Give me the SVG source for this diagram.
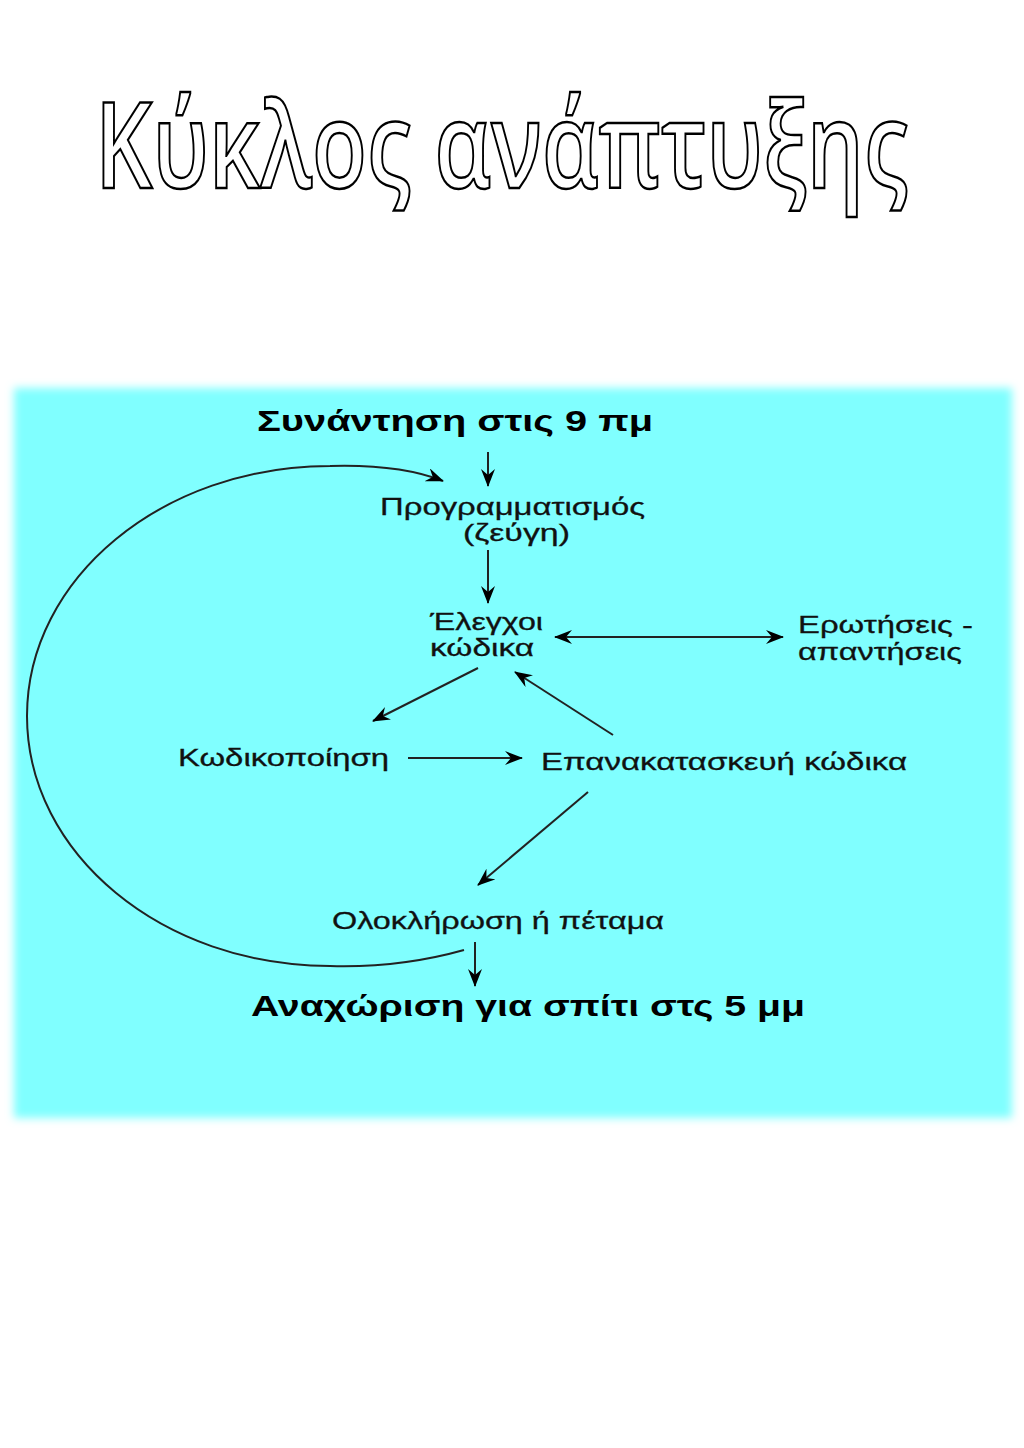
<svg xmlns="http://www.w3.org/2000/svg" width="1024" height="1448" viewBox="0 0 1024 1448">
<style>
.t{font-family:"Liberation Sans","DejaVu Sans",sans-serif;font-size:24px;fill:#111;stroke:#111;stroke-width:0.3}
.b{font-family:"Liberation Sans","DejaVu Sans",sans-serif;font-size:29px;font-weight:bold;fill:#000}
.title{font-family:"Open Sans","Noto Sans","DejaVu Sans",sans-serif;font-size:119px;font-weight:600;fill:#fff;stroke:#000;stroke-width:2.5}
.c{fill:none;stroke:#222;stroke-width:2}
</style>
<defs>
<filter id="soft" x="-5%" y="-5%" width="110%" height="110%"><feGaussianBlur stdDeviation="4"/></filter>
<marker id="ah" viewBox="0 0 18 14" refX="17" refY="7" markerWidth="18" markerHeight="14" markerUnits="userSpaceOnUse" orient="auto-start-reverse">
<path d="M0,0 L18,7 L0,14 L6,7 z" fill="#000"/>
</marker>
</defs>
<rect width="1024" height="1448" fill="#fff"/>
<rect x="14" y="388" width="998" height="730" fill="#80FFFF" filter="url(#soft)"/>
<g id="title"><text class="title" x="95" y="188" textLength="813" lengthAdjust="spacingAndGlyphs">Κύκλος ανάπτυξης</text></g>
<g id="connectors">
<path class="c" d="M464,950 Q400,968 330,966 C162.7,966 27,854 27,716 C27,578 162.7,466 330,466 Q400,464 443,481" marker-end="url(#ah)"/>
<line class="c" x1="488" y1="452" x2="488" y2="486" marker-end="url(#ah)"/>
<line class="c" x1="488" y1="550" x2="488" y2="603" marker-end="url(#ah)"/>
<line class="c" x1="555" y1="637" x2="783" y2="637" marker-start="url(#ah)" marker-end="url(#ah)"/>
<line class="c" x1="478" y1="668" x2="373" y2="721" marker-end="url(#ah)"/>
<line class="c" x1="613" y1="735" x2="515" y2="672" marker-end="url(#ah)"/>
<line class="c" x1="408" y1="758" x2="522" y2="758" marker-end="url(#ah)"/>
<line class="c" x1="588" y1="792" x2="478" y2="885" marker-end="url(#ah)"/>
<line class="c" x1="475" y1="942" x2="475" y2="986" marker-end="url(#ah)"/>
</g>
<g id="start"><text class="b" x="257" y="431" textLength="396" lengthAdjust="spacingAndGlyphs">Συνάντηση στις 9 πμ</text></g>
<g id="programming"><text class="t" x="380" y="515" textLength="265" lengthAdjust="spacingAndGlyphs">Προγραμματισμός</text><text class="t" x="463" y="541" textLength="107" lengthAdjust="spacingAndGlyphs">(ζεύγη)</text></g>
<g id="tests"><text class="t" x="430" y="630" textLength="113" lengthAdjust="spacingAndGlyphs">Έλεγχοι</text><text class="t" x="430" y="656" textLength="104" lengthAdjust="spacingAndGlyphs">κώδικα</text></g>
<g id="qa"><text class="t" x="798" y="633" textLength="175" lengthAdjust="spacingAndGlyphs">Ερωτήσεις -</text><text class="t" x="798" y="660" textLength="164" lengthAdjust="spacingAndGlyphs">απαντήσεις</text></g>
<g id="coding"><text class="t" x="178" y="766" textLength="211" lengthAdjust="spacingAndGlyphs">Κωδικοποίηση</text></g>
<g id="refactor"><text class="t" x="541" y="770" textLength="366" lengthAdjust="spacingAndGlyphs">Επανακατασκευή κώδικα</text></g>
<g id="finish"><text class="t" x="332" y="929" textLength="332" lengthAdjust="spacingAndGlyphs">Ολοκλήρωση ή πέταμα</text></g>
<g id="end"><text class="b" x="251" y="1016" textLength="554" lengthAdjust="spacingAndGlyphs">Αναχώριση για σπίτι στς 5 μμ</text></g>
</svg>
